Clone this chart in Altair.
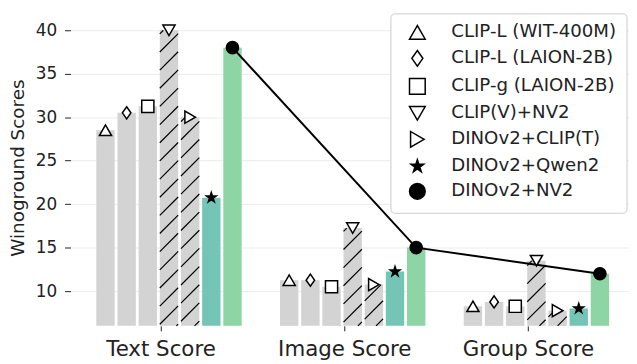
import json
import math
import altair as alt
import pandas as pd

# ---------------- data ----------------
groups = ["Text Score", "Image Score", "Group Score"]
models = [
    "CLIP-L (WIT-400M)",
    "CLIP-L (LAION-2B)",
    "CLIP-g (LAION-2B)",
    "CLIP(V)+NV2",
    "DINOv2+CLIP(T)",
    "DINOv2+Qwen2",
    "DINOv2+NV2",
]
text_scores = [28.5, 30.5, 31.25, 40.0, 30.0, 20.75, 38.0]
image_scores = [11.25, 11.25, 10.5, 17.25, 10.75, 12.25, 15.0]
group_scores = [8.25, 8.75, 8.25, 13.5, 7.75, 8.0, 12.0]
hatched_models = ["CLIP(V)+NV2", "DINOv2+CLIP(T)"]
line_model = "DINOv2+NV2"
y_ticks = [10, 15, 20, 25, 30, 35, 40]

# ---------------- styles ----------------
bar_colors = ["#d3d3d3"] * 5 + ["#74c5b6", "#8dd5a5"]
STAR = ("M0,-0.85L0.191,-0.263L0.808,-0.263L0.309,0.1L0.5,0.688L0,0.325"
        "L-0.5,0.688L-0.309,0.1L-0.808,-0.263L-0.191,-0.263Z")
shapes = ["triangle-up", "M0,-1L0.7,0L0,1L-0.7,0Z", "square",
          "triangle-down", "triangle-right", STAR, "circle"]
marker_fills = ["white"] * 5 + ["black", "black"]
marker_strokes = ["black"] * 7

W, H = 563, 319
XDOM = [-0.49, 2.55]
YDOM = [6, 42.4]
PITCH = 0.1152
SHIFT = 2.6
HALF = 0.05
FONT = "DejaVu Sans"
TXT = "#222222"

rows = []
for gi, vals in enumerate([text_scores, image_scores, group_scores]):
    for mi, v in enumerate(vals):
        rows.append(dict(group=groups[gi], gi=gi, model=models[mi], mi=mi, score=v))
df = pd.DataFrame(rows)

# hatch lines ("/" pattern) for hatched bars, derived from the bar values
ux = W / (XDOM[1] - XDOM[0])
uy = H / (YDOM[1] - YDOM[0])
S = 18.3
hrows = []
for gi, vals in enumerate([text_scores, image_scores, group_scores]):
    for m in hatched_models:
        mi = models.index(m)
        top = vals[mi]
        bot = YDOM[0]
        xc = gi + (mi - SHIFT) * PITCH
        xl, xr = xc - HALF, xc + HALF
        cmin = bot * uy - xr * ux
        cmax = top * uy - xl * ux
        for k in range(math.floor(cmin / S), math.ceil(cmax / S) + 1):
            c = k * S
            xa = max(xl, (bot * uy - c) / ux)
            xb = min(xr, (top * uy - c) / ux)
            if xb - xa > 1e-6:
                hrows.append(dict(hx1=xa, hx2=xb,
                                  hy1=(c + xa * ux) / uy, hy2=(c + xb * ux) / uy))
hatch = pd.DataFrame(hrows)

xs = alt.Scale(domain=XDOM, nice=False, zero=False)
ys = alt.Scale(domain=YDOM, nice=False, zero=False)

label_expr = json.dumps(groups) + "[datum.value]"
x_axis = alt.Axis(values=[0, 1, 2], labelExpr=label_expr, grid=False, domain=False,
                  tickSize=5, tickColor=TXT, tickWidth=1, labelFontSize=21.5,
                  labelPadding=7.5, labelColor=TXT, labelFont=FONT, title=None)
y_axis = alt.Axis(values=y_ticks, grid=True, gridColor="#ebebeb", gridWidth=1,
                  domain=False, tickSize=6, tickColor=TXT, tickWidth=1,
                  labelFontSize=17, labelPadding=8, labelColor=TXT, labelFont=FONT,
                  title="Winoground Scores", titleFontSize=18.5, titleFontWeight="normal",
                  titleFont=FONT, titleColor=TXT, titlePadding=8)

base = alt.Chart(df).transform_calculate(
    xc=f"datum.gi + (datum.mi - {SHIFT}) * {PITCH}"
).transform_calculate(
    xl=f"datum.xc - {HALF}", xr=f"datum.xc + {HALF}"
)

bars = base.mark_bar().encode(
    x=alt.X("xl:Q", scale=xs, axis=x_axis),
    x2="xr:Q",
    y=alt.Y("score:Q", scale=ys, axis=y_axis),
    y2=alt.datum(YDOM[0]),
    color=alt.Color("mi:O", scale=alt.Scale(domain=list(range(len(models))), range=bar_colors),
                    legend=None),
)

hatch_layer = alt.Chart(hatch).mark_rule(color="black", strokeWidth=1.2).encode(
    x=alt.X("hx1:Q", scale=xs, axis=x_axis),
    x2="hx2:Q",
    y=alt.Y("hy1:Q", scale=ys, axis=y_axis),
    y2="hy2:Q",
)

line = base.transform_filter(alt.datum.model == line_model).mark_line(
    color="black", strokeWidth=2
).encode(
    x=alt.X("xc:Q", scale=xs, axis=x_axis),
    y=alt.Y("score:Q", scale=ys, axis=y_axis),
    order="gi:Q",
)

legend = alt.Legend(
    orient="none", legendX=322.5, legendY=4, title=None,
    labelFontSize=18.3, labelFont=FONT, labelColor=TXT, labelLimit=400,
    symbolSize=250, symbolStrokeColor="black", symbolStrokeWidth=1.5,
    rowPadding=5.2, padding=10, symbolOffset=8, labelOffset=25,
    strokeColor="#cccccc", fillColor="white", cornerRadius=4,
)

points = base.mark_point(filled=True, size=150, strokeWidth=1.5, opacity=1).encode(
    x=alt.X("xc:Q", scale=xs, axis=x_axis),
    y=alt.Y("score:Q", scale=ys, axis=y_axis),
    shape=alt.Shape("model:N", scale=alt.Scale(domain=models, range=shapes), legend=legend),
    fill=alt.Fill("model:N", scale=alt.Scale(domain=models, range=marker_fills), legend=legend),
    stroke=alt.Stroke("model:N", scale=alt.Scale(domain=models, range=marker_strokes), legend=legend),
)

chart = alt.layer(bars, hatch_layer, line, points).properties(
    width=W, height=H, padding={"left": 0, "top": 0, "right": 0, "bottom": 0}
).configure(font=FONT).configure_view(stroke=None)

chart.save("out.html", embed_options={"renderer": "svg", "actions": False})
